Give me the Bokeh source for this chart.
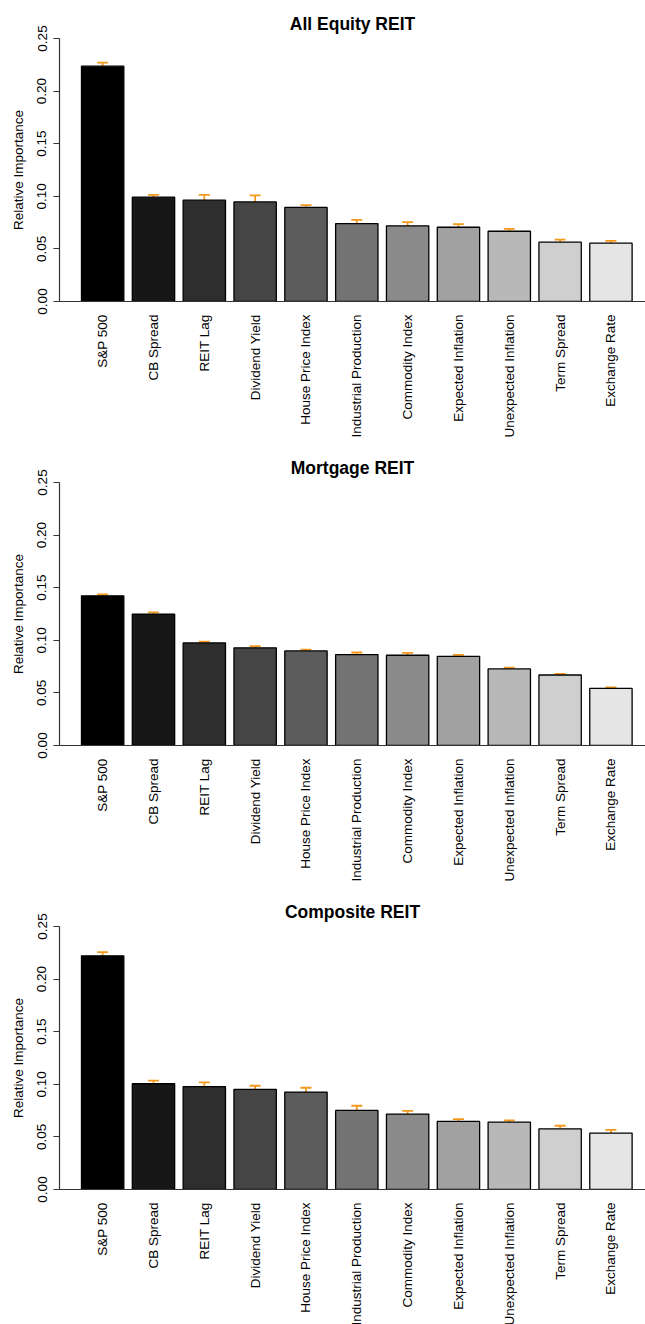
import math

from bokeh.plotting import figure
from bokeh.layouts import column
from bokeh.models import Range1d, FixedTicker, Whisker, TeeHead, ColumnDataSource
from bokeh.embed import file_html
from bokeh.resources import INLINE

# Predictors, in the order they are ranked in every panel
predictors = ["S&P 500", "CB Spread", "REIT Lag", "Dividend Yield", "House Price Index",
              "Industrial Production", "Commodity Index", "Expected Inflation",
              "Unexpected Inflation", "Term Spread", "Exchange Rate"]

# Relative importance with lower / upper bounds of the interval
equity_importance = [0.2237, 0.0992, 0.0963, 0.0947, 0.0894, 0.0741, 0.0719, 0.0706, 0.0668, 0.0564, 0.0554]
equity_lower = [0.2203, 0.0967, 0.0910, 0.0884, 0.0865, 0.0706, 0.0688, 0.0684, 0.0646, 0.0535, 0.0529]
equity_upper = [0.2270, 0.1014, 0.1014, 0.1008, 0.0916, 0.0776, 0.0754, 0.0735, 0.0691, 0.0589, 0.0577]

mortgage_importance = [0.1423, 0.1249, 0.0975, 0.0928, 0.0899, 0.0864, 0.0858, 0.0848, 0.0728, 0.0670, 0.0543]
mortgage_lower = [0.1408, 0.1230, 0.0960, 0.0912, 0.0884, 0.0842, 0.0836, 0.0836, 0.0712, 0.0655, 0.0531]
mortgage_upper = [0.1436, 0.1265, 0.0988, 0.0944, 0.0912, 0.0884, 0.0880, 0.0861, 0.0741, 0.0680, 0.0553]

composite_importance = [0.2221, 0.1005, 0.0977, 0.0952, 0.0926, 0.0752, 0.0717, 0.0647, 0.0641, 0.0577, 0.0536]
composite_lower = [0.2176, 0.0974, 0.0936, 0.0920, 0.0882, 0.0707, 0.0685, 0.0625, 0.0619, 0.0552, 0.0501]
composite_upper = [0.2256, 0.1034, 0.1019, 0.0986, 0.0967, 0.0796, 0.0748, 0.0669, 0.0657, 0.0606, 0.0567]

y_ticks = [0.0, 0.05, 0.10, 0.15, 0.20, 0.25]
y_tick_labels = ["0.00", "0.05", "0.10", "0.15", "0.20", "0.25"]

FONT = "Liberation Sans"
ORANGE = "#F39A1E"
N = len(predictors)
# grey ramp from black to light grey, one shade per bar
GREYS = ["#%02x%02x%02x" % ((round(i * 0.09 * 255),) * 3) for i in range(N)]


def panel(title, values, lower, upper, height, bottom):
    xs = list(range(N))
    p = figure(width=645, height=height, title=title,
               x_range=Range1d(-0.849, 10.68), y_range=Range1d(0, 0.25),
               output_backend="svg", toolbar_location=None,
               min_border_left=59, min_border_right=0,
               min_border_top=38, min_border_bottom=bottom)
    p.grid.visible = False
    p.outline_line_color = None
    p.background_fill_color = "white"
    p.border_fill_color = "white"

    p.title.text_font = FONT
    p.title.text_font_size = "17.5px"
    p.title.text_font_style = "bold"
    p.title.text_color = "black"
    p.title.align = "center"
    p.title.standoff = 9

    src = ColumnDataSource(dict(x=xs, top=values, lower=lower, upper=upper, color=GREYS))
    p.vbar(x="x", top="top", bottom=0, width=0.8333, source=src,
           fill_color="color", line_color="black", line_width=1.3)

    head_up = TeeHead(size=11, line_color=ORANGE, line_width=1.8)
    head_lo = TeeHead(size=11, line_color=ORANGE, line_width=1.8)
    p.add_layout(Whisker(base="x", upper="upper", lower="lower", source=src,
                         line_color=ORANGE, line_width=1.8,
                         upper_head=head_up, lower_head=head_lo))

    xa = p.xaxis[0]
    xa.ticker = FixedTicker(ticks=xs)
    xa.major_label_overrides = {i: name for i, name in enumerate(predictors)}
    xa.major_label_orientation = math.pi / 2
    xa.major_tick_line_color = None
    xa.minor_tick_line_color = None
    xa.major_label_standoff = 7
    xa.axis_line_color = "#333333"
    xa.axis_line_width = 1.2
    xa.major_label_text_font = FONT
    xa.major_label_text_font_size = "13.5px"
    xa.major_label_text_color = "black"

    ya = p.yaxis[0]
    ya.ticker = FixedTicker(ticks=y_ticks)
    ya.major_label_overrides = {t: s for t, s in zip(y_ticks, y_tick_labels)}
    ya.major_label_orientation = "parallel"
    ya.minor_tick_line_color = None
    ya.major_tick_in = 0
    ya.major_tick_out = 6
    ya.major_label_standoff = 7
    ya.axis_line_color = "#333333"
    ya.major_tick_line_color = "#333333"
    ya.axis_line_width = 1.2
    ya.major_tick_line_width = 1.2
    ya.major_label_text_font = FONT
    ya.major_label_text_font_size = "13.5px"
    ya.major_label_text_color = "black"
    ya.axis_label = "Relative Importance"
    ya.axis_label_text_font = FONT
    ya.axis_label_text_font_size = "13.5px"
    ya.axis_label_text_font_style = "normal"
    ya.axis_label_text_color = "black"
    ya.axis_label_standoff = 9
    return p


p1 = panel("All Equity REIT", equity_importance, equity_lower, equity_upper, 444, 143)
p2 = panel("Mortgage REIT", mortgage_importance, mortgage_lower, mortgage_upper, 444, 143)
p3 = panel("Composite REIT", composite_importance, composite_lower, composite_upper, 444, 143)

page = column(p1, p2, p3, spacing=0)
html = file_html(page, INLINE)
# the last panel's long labels run past the bottom of the page; keep them cut off there
html = html.replace("<body>", '<body style="margin:0;overflow:hidden">', 1)
open("out.html", "w").write(html)
